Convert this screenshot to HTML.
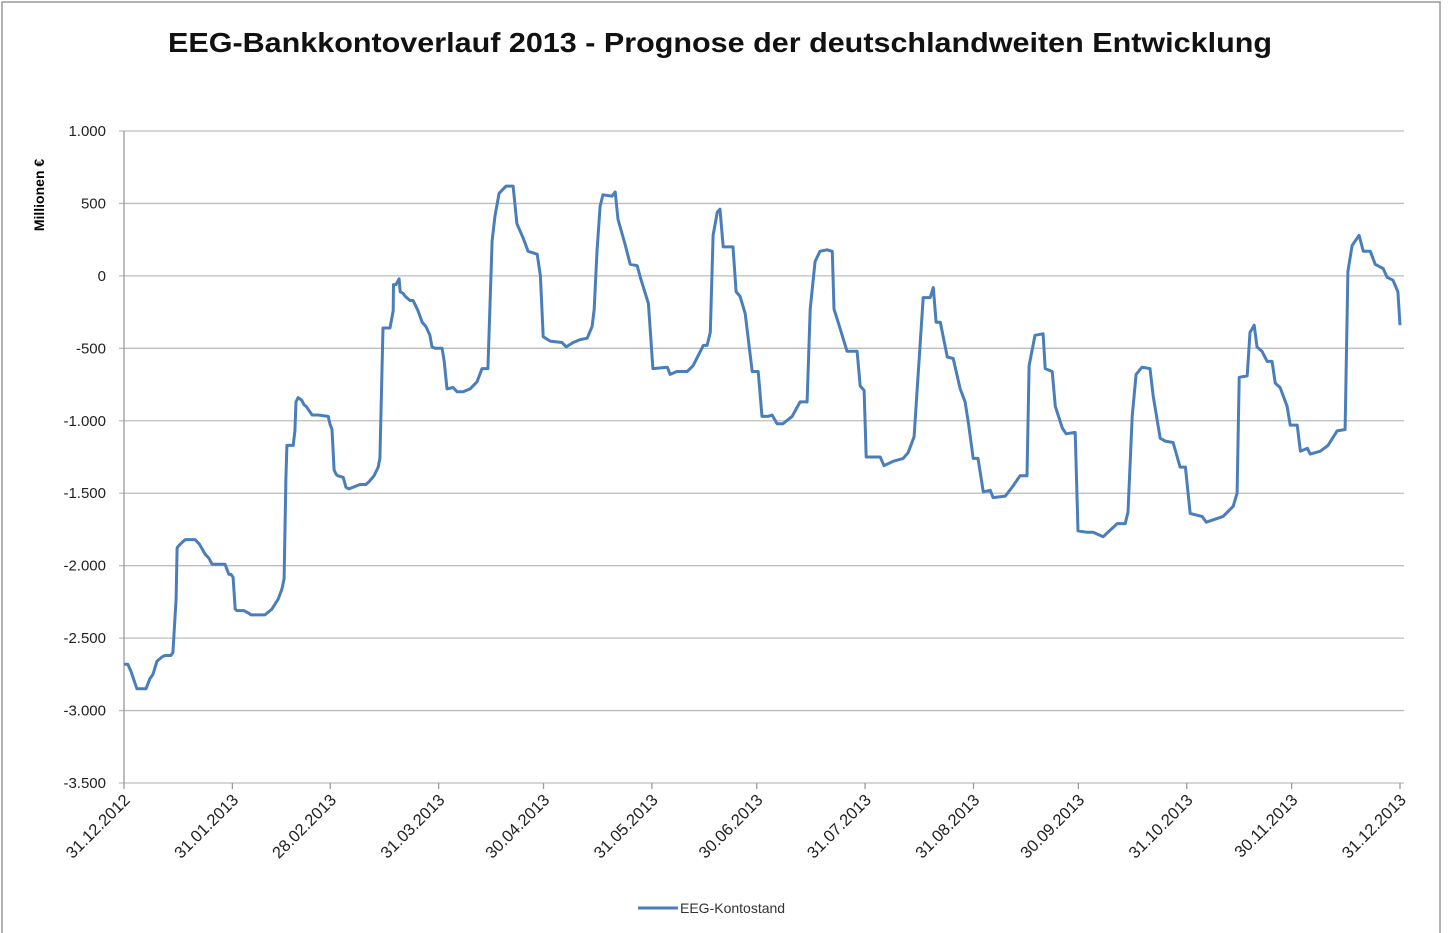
<!DOCTYPE html>
<html><head><meta charset="utf-8"><style>
body{margin:0;background:#fff;}
svg{display:block;font-family:"Liberation Sans",sans-serif;}
</style></head><body>
<svg width="1450" height="933">
<rect x="2" y="2" width="1438" height="940" fill="#fff" stroke="#9a9a9a" stroke-width="1.5"/>
<text x="720" y="52" text-anchor="middle" font-size="28" font-weight="bold" fill="#111" textLength="1104" lengthAdjust="spacingAndGlyphs">EEG-Bankkontoverlauf 2013 - Prognose der deutschlandweiten Entwicklung</text>
<text transform="translate(44,195) rotate(-90)" text-anchor="middle" font-size="14" font-weight="bold" fill="#000">Millionen  €</text>
<g id="grid"></g><g id="yl"></g><g id="xl"></g><g id="series"></g>
<g>
<line x1="638" y1="908" x2="678" y2="908" stroke="#4a7ebb" stroke-width="3"/>
<text x="680" y="913" font-size="14" fill="#333">EEG-Kontostand</text>
</g>
</svg>
<script>
const yTicks=[1000,500,0,-500,-1000,-1500,-2000,-2500,-3000,-3500];
const yTickLabels=["1.000","500","0","-500","-1.000","-1.500","-2.000","-2.500","-3.000","-3.500"];
const xTickDays=[0,31,59,90,120,151,181,212,243,273,304,334,365];
const xTickLabels=["31.12.2012","31.01.2013","28.02.2013","31.03.2013","30.04.2013","31.05.2013","30.06.2013","31.07.2013","31.08.2013","30.09.2013","31.10.2013","30.11.2013","31.12.2013"];
const days=[0,1.1,2,3.7,6.3,7.4,8.3,9.4,10.9,11.7,13.4,14,14.9,15.2,15.4,16.6,17.5,20.3,21.5,23.2,24.3,25.2,25.7,28.9,30,30.6,31.2,31.8,32.3,34.3,35.8,36.3,37.2,40.3,42.3,44.1,45.2,45.8,46.3,46.6,48.4,48.9,49.2,49.8,50.9,51.5,52.1,53.8,55.5,58.4,58.9,59.5,60.1,60.7,61.2,62.7,63.5,64.4,66.4,67.5,69.2,70.1,71.5,72.7,73.2,74.1,74.7,76.1,77,77.1,77.8,78.7,79,79.8,80.4,81.8,82.7,84.1,85.3,86.4,87.5,88.1,89,91,91.6,92.4,94.1,95.3,97,99,101,102.4,104.1,105.3,106.1,107.3,109.3,111.3,112.4,114.2,115.6,118.2,119.1,119.9,121.9,125.3,126.5,128.5,130.5,132.5,133.9,134.5,135.3,136.2,137,139.6,140.5,141.3,143.3,144.8,146.8,147.7,150,151.3,155.4,156.2,158.2,161.1,162.8,165.7,166.8,167.7,168.5,169.7,170.5,171.4,174.2,175.1,176.2,177.7,179.7,181.4,182.5,184.2,185.4,186.8,188.5,191.1,193.4,195.4,196.3,197.7,199.1,201.1,202.6,203.1,204.3,206.8,209.7,210.6,211.7,212.3,216.3,217.4,220,222.9,224.3,226,226.9,228.6,230.6,231.5,232.3,233.5,235.5,237.2,239.2,240.6,241.5,242.9,244.3,245.8,247.8,248.6,252.1,254.3,256.3,258.3,258.9,260.6,262.9,263.5,265.5,266.4,268.4,269.5,272.1,272.9,275.5,277.2,280.1,284.1,286.4,287.2,288.4,289.5,291.2,293.5,294.4,296.4,297.8,300.1,302.1,303.6,305,308.4,309.6,314.4,317.3,318.4,319,321.3,322.1,323.3,324.1,325.5,327,328.4,329.3,330.7,332.7,333.6,335.6,336.5,338.5,339.3,342.2,344.4,347,349.3,350.1,351.3,353.3,354.5,356.5,357.9,360.2,361.3,363,364.4,365];
const values=[-2680,-2680,-2730,-2850,-2850,-2780,-2750,-2660,-2630,-2620,-2620,-2600,-2230,-1880,-1870,-1840,-1820,-1820,-1850,-1920,-1950,-1990,-1990,-1990,-2060,-2060,-2080,-2300,-2310,-2310,-2330,-2340,-2340,-2340,-2300,-2230,-2160,-2090,-1400,-1170,-1170,-1070,-870,-840,-860,-890,-900,-960,-960,-970,-1020,-1060,-1340,-1370,-1380,-1390,-1460,-1470,-1450,-1440,-1440,-1420,-1380,-1320,-1260,-360,-360,-360,-240,-60,-60,-20,-110,-120,-140,-170,-170,-240,-320,-350,-410,-490,-500,-500,-590,-780,-770,-800,-800,-780,-730,-640,-640,240,410,570,620,620,360,260,170,150,0,-420,-450,-460,-490,-460,-440,-430,-350,-230,170,480,560,550,580,390,220,80,70,-10,-190,-640,-630,-680,-660,-660,-620,-480,-480,-390,280,440,460,200,200,-110,-140,-260,-660,-660,-970,-970,-960,-1020,-1020,-970,-870,-870,-230,100,170,180,170,-230,-320,-520,-520,-760,-790,-1250,-1250,-1310,-1280,-1260,-1220,-1110,-780,-150,-150,-80,-320,-320,-560,-570,-780,-870,-1010,-1260,-1260,-1490,-1480,-1530,-1520,-1450,-1380,-1380,-620,-410,-400,-640,-660,-900,-1050,-1090,-1080,-1760,-1770,-1770,-1800,-1710,-1710,-1630,-970,-680,-630,-640,-830,-1120,-1140,-1150,-1320,-1320,-1640,-1660,-1700,-1660,-1590,-1500,-700,-690,-390,-340,-490,-520,-590,-590,-740,-770,-900,-1030,-1030,-1210,-1190,-1230,-1210,-1170,-1070,-1060,30,210,280,170,170,80,50,-10,-30,-110,-340];

const NS="http://www.w3.org/2000/svg";
const X0=124,X1=1400,Y0=131,Y1=783;
function xs(d){return X0+(d/365)*(X1-X0);}
function ys(v){return Y0+(1000-v)/4500*(Y1-Y0);}
function mk(tag,attrs,parent){const e=document.createElementNS(NS,tag);for(const k in attrs)e.setAttribute(k,attrs[k]);parent.appendChild(e);return e;}
const grid=document.getElementById('grid'),yl=document.getElementById('yl'),xl=document.getElementById('xl'),ser=document.getElementById('series');
yTicks.forEach((v,i)=>{
  const y=ys(v);
  const g=mk('line',{x1:X0-5,x2:1404,y1:y,y2:y,stroke:'#bdbdbd','stroke-width':1.3},grid);
  
  
  const t=mk('text',{x:106,y:y+5,'text-anchor':'end','font-size':15,fill:'#222'},yl);
  t.textContent=yTickLabels[i];
  
  
});
const ax=mk('line',{x1:X0,x2:X0,y1:Y0,y2:Y1,stroke:'#9a9a9a','stroke-width':1.3},grid);


xTickDays.forEach((d,i)=>{
  const x=xs(d);
  const tk=mk('line',{x1:x,x2:x,y1:Y1,y2:Y1+6,stroke:'#9a9a9a','stroke-width':1.3},grid);
  
  
  const t=mk('text',{x:x+7,y:Y1+18,'text-anchor':'end','font-size':16.5,fill:'#222',transform:`rotate(-45 ${x+7} ${Y1+18})`},xl);
  t.textContent=xTickLabels[i];
  
  
});
const pts=days.map((d,i)=>xs(d).toFixed(1)+','+ys(values[i]).toFixed(1)).join(' ');
const pl=mk('polyline',{points:pts,fill:'none',stroke:'#4a7ebb','stroke-width':3,'stroke-linejoin':'round'},ser);


</script>
</body></html>
